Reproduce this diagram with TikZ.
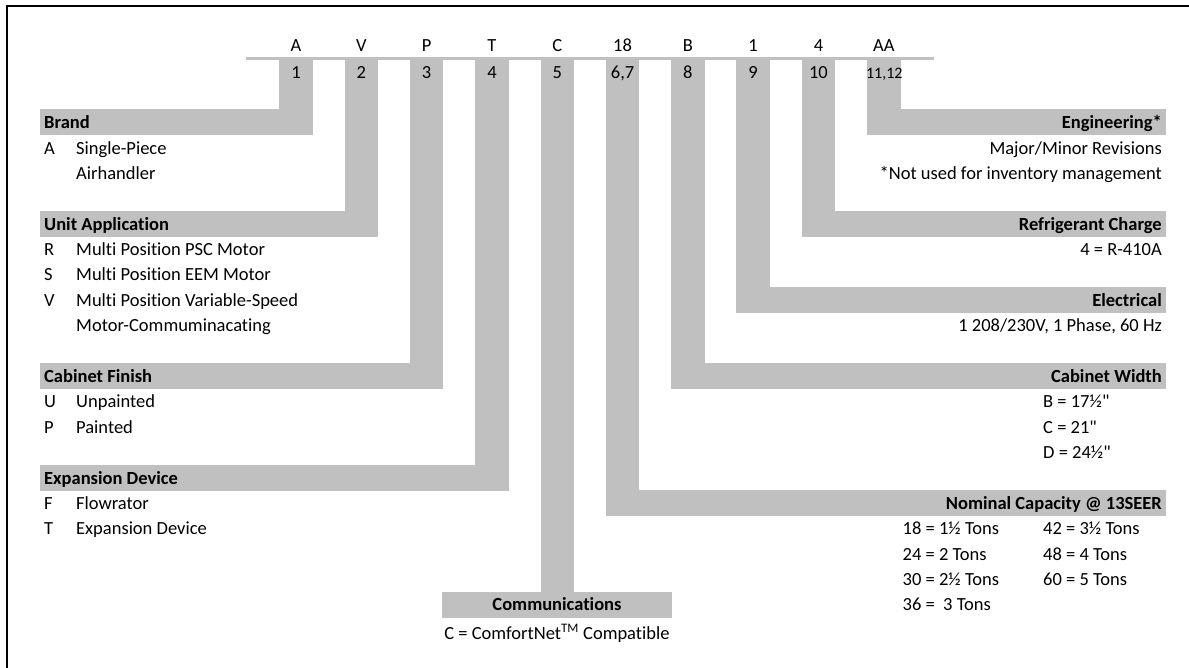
\documentclass[tikz,border=0pt]{standalone}
\usepackage{fontspec}
\setmainfont{Carlito}[Ligatures={TeXOff,NoCommon}]
\definecolor{barg}{RGB}{192,192,192}
\def\R#1{(122.5+25.38*#1)}
\def\CL#1{(279.3+65.3*(#1-1))}
\def\CR#1{(312.8+65.3*(#1-1))}
\def\CC#1{(296.05+65.3*(#1-1))}
\begin{document}
\begin{tikzpicture}[x=1pt,y=-1pt,
  txt/.style={inner sep=0pt, font=\fontsize{18.5}{22}\selectfont},
  lt/.style={txt, anchor=base west},
  rt/.style={txt, anchor=base east},
  ct/.style={txt, anchor=base},
  hl/.style={lt, font=\fontsize{18.5}{22}\selectfont\bfseries},
  hr/.style={rt, font=\fontsize{18.5}{22}\selectfont\bfseries},
  hc/.style={ct, font=\fontsize{18.5}{22}\selectfont\bfseries},
  bar/.style={fill=barg, draw=none}]
\useasboundingbox (0,0) rectangle (1189,668);
\fill[white] (0,0) rectangle (1189,668);
% frame (top and left edges only)
\draw[line width=2pt] (7,668) -- (7,6) -- (1189,6);
% top line
\fill[barg] (246,57) rectangle (934,60);
% columns
\fill[bar] ({\CL{1}},60) rectangle ({\CR{1}},{\R{0}+13});
\fill[bar] ({\CL{2}},60) rectangle ({\CR{2}},{\R{4}+13});
\fill[bar] ({\CL{3}},60) rectangle ({\CR{3}},{\R{10}+13});
\fill[bar] ({\CL{4}},60) rectangle ({\CR{4}},{\R{14}+13});
\fill[bar] ({\CL{5}},60) rectangle ({\CR{5}},{\R{19}+13});
\fill[bar] ({\CL{6}},60) rectangle ({\CR{6}},{\R{15}+13});
\fill[bar] ({\CL{7}},60) rectangle ({\CR{7}},{\R{10}+13});
\fill[bar] ({\CL{8}},60) rectangle ({\CR{8}},{\R{7}+13});
\fill[bar] ({\CL{9}},60) rectangle ({\CR{9}},{\R{4}+13});
\fill[bar] ({\CL{10}},60) rectangle ({\CR{10}},{\R{0}+13});
% header bars
\fill[bar] (40,{\R{0}-13}) rectangle ({\CR{1}},{\R{0}+13});
\fill[bar] (40,{\R{4}-13}) rectangle ({\CR{2}},{\R{4}+13});
\fill[bar] (40,{\R{10}-13}) rectangle ({\CR{3}},{\R{10}+13});
\fill[bar] (40,{\R{14}-13}) rectangle ({\CR{4}},{\R{14}+13});
\fill[bar] (442,{\R{19}-13}) rectangle (671.7,{\R{19}+13});
\fill[bar] ({\CL{6}},{\R{15}-13}) rectangle (1166,{\R{15}+13});
\fill[bar] ({\CL{7}},{\R{10}-13}) rectangle (1166,{\R{10}+13});
\fill[bar] ({\CL{8}},{\R{7}-13}) rectangle (1166,{\R{7}+13});
\fill[bar] ({\CL{9}},{\R{4}-13}) rectangle (1166,{\R{4}+13});
\fill[bar] ({\CL{10}},{\R{0}-13}) rectangle (1166,{\R{0}+13});
% top letters
\node[ct] (l1) at ({\CC{1}},51.7) {A};
\node[ct] (l2) at ({\CC{2}},51.7) {V};
\node[ct] (l3) at ({\CC{3}},51.7) {P};
\node[ct] (l4) at ({\CC{4}},51.7) {T};
\node[ct] (l5) at ({\CC{5}},51.7) {C};
\node[ct] (l6) at ({\CC{6}},51.7) {18};
\node[ct] (l7) at ({\CC{7}},51.7) {B};
\node[ct] (l8) at ({\CC{8}},51.7) {1};
\node[ct] (l9) at ({\CC{9}},51.7) {4};
\node[ct] (l10) at ({\CC{10}},51.7) {AA};
% position numbers
\node[ct] (n1) at ({\CC{1}},78.3) {1};
\node[ct] (n2) at ({\CC{2}},78.3) {2};
\node[ct] (n3) at ({\CC{3}},78.3) {3};
\node[ct] (n4) at ({\CC{4}},78.3) {4};
\node[ct] (n5) at ({\CC{5}},78.3) {5};
\node[ct] (n6) at ({\CC{6}},78.3) {6,7};
\node[ct] (n7) at ({\CC{7}},78.3) {8};
\node[ct] (n8) at ({\CC{8}},78.3) {9};
\node[ct] (n9) at ({\CC{9}},78.3) {10};
\node[ct, font=\fontsize{16}{19}\selectfont] (n10) at ({\CC{10}+0.5},78.3) {11,12};
% left sections
\node[hl] (brand) at (44,{\R{0}+6.2}) {Brand};
\node[lt] (bA) at (44,{\R{1}+6.2}) {A};
\node[lt] (bAt) at (76,{\R{1}+6.2}) {Single-Piece};
\node[lt] (bAt2) at (76,{\R{2}+6.2}) {Airhandler};
\node[hl] (unit) at (44,{\R{4}+6.2}) {Unit Application};
\node[lt] (uR) at (44,{\R{5}+6.2}) {R};
\node[lt] (uRt) at (76,{\R{5}+6.2}) {Multi Position PSC Motor};
\node[lt] (uS) at (44,{\R{6}+6.2}) {S};
\node[lt] (uSt) at (76,{\R{6}+6.2}) {Multi Position EEM Motor};
\node[lt] (uV) at (44,{\R{7}+6.2}) {V};
\node[lt] (uVt) at (76,{\R{7}+6.2}) {Multi Position Variable-Speed};
\node[lt] (uVt2) at (76,{\R{8}+6.2}) {Motor-Commuminacating};
\node[hl] (cab) at (44,{\R{10}+6.2}) {Cabinet Finish};
\node[lt] (cU) at (44,{\R{11}+6.2}) {U};
\node[lt] (cUt) at (76,{\R{11}+6.2}) {Unpainted};
\node[lt] (cP) at (44,{\R{12}+6.2}) {P};
\node[lt] (cPt) at (76,{\R{12}+6.2}) {Painted};
\node[hl] (exp) at (44,{\R{14}+6.2}) {Expansion Device};
\node[lt] (eF) at (44,{\R{15}+6.2}) {F};
\node[lt] (eFt) at (76,{\R{15}+6.2}) {Flowrator};
\node[lt] (eT) at (44,{\R{16}+6.2}) {T};
\node[lt] (eTt) at (76,{\R{16}+6.2}) {Expansion Device};
% communications
\node[hc] (comm) at (557,{\R{19}+6.2}) {Communications};
\node[ct] (commt) at (557,639) {C = ComfortNet\textsuperscript{TM} Compatible};
% right sections
\node[hr] (eng) at (1162,{\R{0}+6.2}) {Engineering*};
\node[rt] (eng1) at (1162,{\R{1}+6.2}) {Major/Minor Revisions};
\node[rt] (eng2) at (1162,{\R{2}+6.2}) {*Not used for inventory management};
\node[hr] (ref) at (1162,{\R{4}+6.2}) {Refrigerant Charge};
\node[rt] (ref1) at (1162,{\R{5}+6.2}) {4 = R-410A};
\node[hr] (ele) at (1162,{\R{7}+6.2}) {Electrical};
\node[rt] (ele1) at (1162,{\R{8}+6.2}) {1 208/230V, 1 Phase, 60 Hz};
\node[hr] (cw) at (1162,{\R{10}+6.2}) {Cabinet Width};
\node[lt] (cwB) at (1043,{\R{11}+6.2}) {B = 17½"};
\node[lt] (cwC) at (1043,{\R{12}+6.2}) {C = 21"};
\node[lt] (cwD) at (1043,{\R{13}+6.2}) {D = 24½"};
\node[hr] (nom) at (1162,{\R{15}+6.2}) {Nominal Capacity @ 13SEER};
\node[lt] (c18) at (902.5,{\R{16}+6.2}) {18 = 1½ Tons};
\node[lt] (c42) at (1043,{\R{16}+6.2}) {42 = 3½ Tons};
\node[lt] (c24) at (902.5,{\R{17}+6.2}) {24 = 2 Tons};
\node[lt] (c48) at (1043,{\R{17}+6.2}) {48 = 4 Tons};
\node[lt] (c30) at (902.5,{\R{18}+6.2}) {30 = 2½ Tons};
\node[lt] (c60) at (1043,{\R{18}+6.2}) {60 = 5 Tons};
\node[lt] (c36) at (902.5,{\R{19}+6.2}) {36 =\ \ 3 Tons};
\end{tikzpicture}
\end{document}
